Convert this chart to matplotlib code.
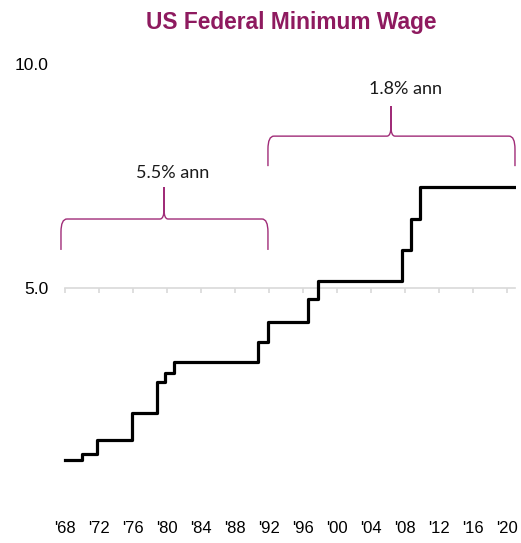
import matplotlib.pyplot as plt
from matplotlib.path import Path
from matplotlib.patches import PathPatch

plt.rcParams['font.family'] = ['Liberation Sans', 'DejaVu Sans']

# Federal minimum wage, step changes (decimal year, $/hour)
step_years = [1968.0, 1970.0, 1971.8, 1975.9, 1978.8, 1979.8, 1980.8, 1990.7,
              1991.9, 1996.6, 1997.8, 2007.6, 2008.7, 2009.8, 2020.8]
wage = [1.15, 1.30, 1.60, 2.20, 2.90, 3.10, 3.35, 3.80,
        4.25, 4.75, 5.15, 5.85, 6.55, 7.25, 7.25]

tick_years = list(range(1968, 2021, 4))
tick_labels = ["'" + str(y)[2:] for y in tick_years]

growth_labels = ['5.5% ann', '1.8% ann']

purple = '#8E1A5F'
brace_col = '#A02C78'

fig = plt.figure(figsize=(5.21, 5.43), dpi=100)
ax = fig.add_axes([62 / 521, 31 / 543, 454 / 521, 448 / 543])

ax.step(step_years, wage, where='post', color='black', lw=2.3, zorder=3)

# horizontal axis line sits at 5.0, ticks hang below it
ax.plot([1968, 2021], [5, 5], color='#d9d9d9', lw=1.2, zorder=1)
ax.vlines(tick_years, 4.88, 5, color='#d9d9d9', lw=1.2, zorder=1)

ax.set_xlim(1967.65, 2021.06)
ax.set_ylim(0, 10)
for s in ax.spines.values():
    s.set_visible(False)
ax.set_yticks([5, 10])
ax.set_yticklabels(['5.0', '10.0'])
ax.set_xticks(tick_years)
ax.set_xticklabels(tick_labels)
ax.tick_params(axis='y', length=0, pad=10, labelsize=12.5)
ax.tick_params(axis='x', length=0, pad=6.5, labelsize=12)


def brace(x0, x1, xm, yb, yend, ytip, rx=0.7, ry=0.29, rxm=0.47, rym=0.22):
    verts = [(x0, yend), (x0, yb - ry), (x0, yb), (x0 + rx, yb),
             (xm - rxm, yb), (xm, yb), (xm, yb + rym), (xm, ytip),
             (xm, yb + rym), (xm, yb), (xm + rxm, yb),
             (x1 - rx, yb), (x1, yb), (x1, yb - ry), (x1, yend)]
    codes = [Path.MOVETO, Path.LINETO, Path.CURVE3, Path.CURVE3,
             Path.LINETO, Path.CURVE3, Path.CURVE3, Path.LINETO,
             Path.LINETO, Path.CURVE3, Path.CURVE3,
             Path.LINETO, Path.CURVE3, Path.CURVE3, Path.LINETO]
    ax.add_patch(PathPatch(Path(verts, codes), fill=False, ec=brace_col,
                           lw=1.0, clip_on=False))


brace(1967.53, 1991.88, 1979.65, 6.54, 5.85, 7.25)
brace(1991.88, 2020.94, 2006.35, 8.39, 7.72, 9.06)

ax.text(1980.7, 7.57, growth_labels[0], ha='center', va='center',
        fontsize=13, family='Lato', color='#1a1a1a')
ax.text(2008.1, 9.44, growth_labels[1], ha='center', va='center',
        fontsize=13, family='Lato', color='#1a1a1a')

fig.text(291 / 521, 1 - 22 / 543, 'US Federal Minimum Wage', ha='center',
         va='center', fontsize=16.4, fontweight='bold', color=purple)

fig.savefig('out.png', dpi=100)
